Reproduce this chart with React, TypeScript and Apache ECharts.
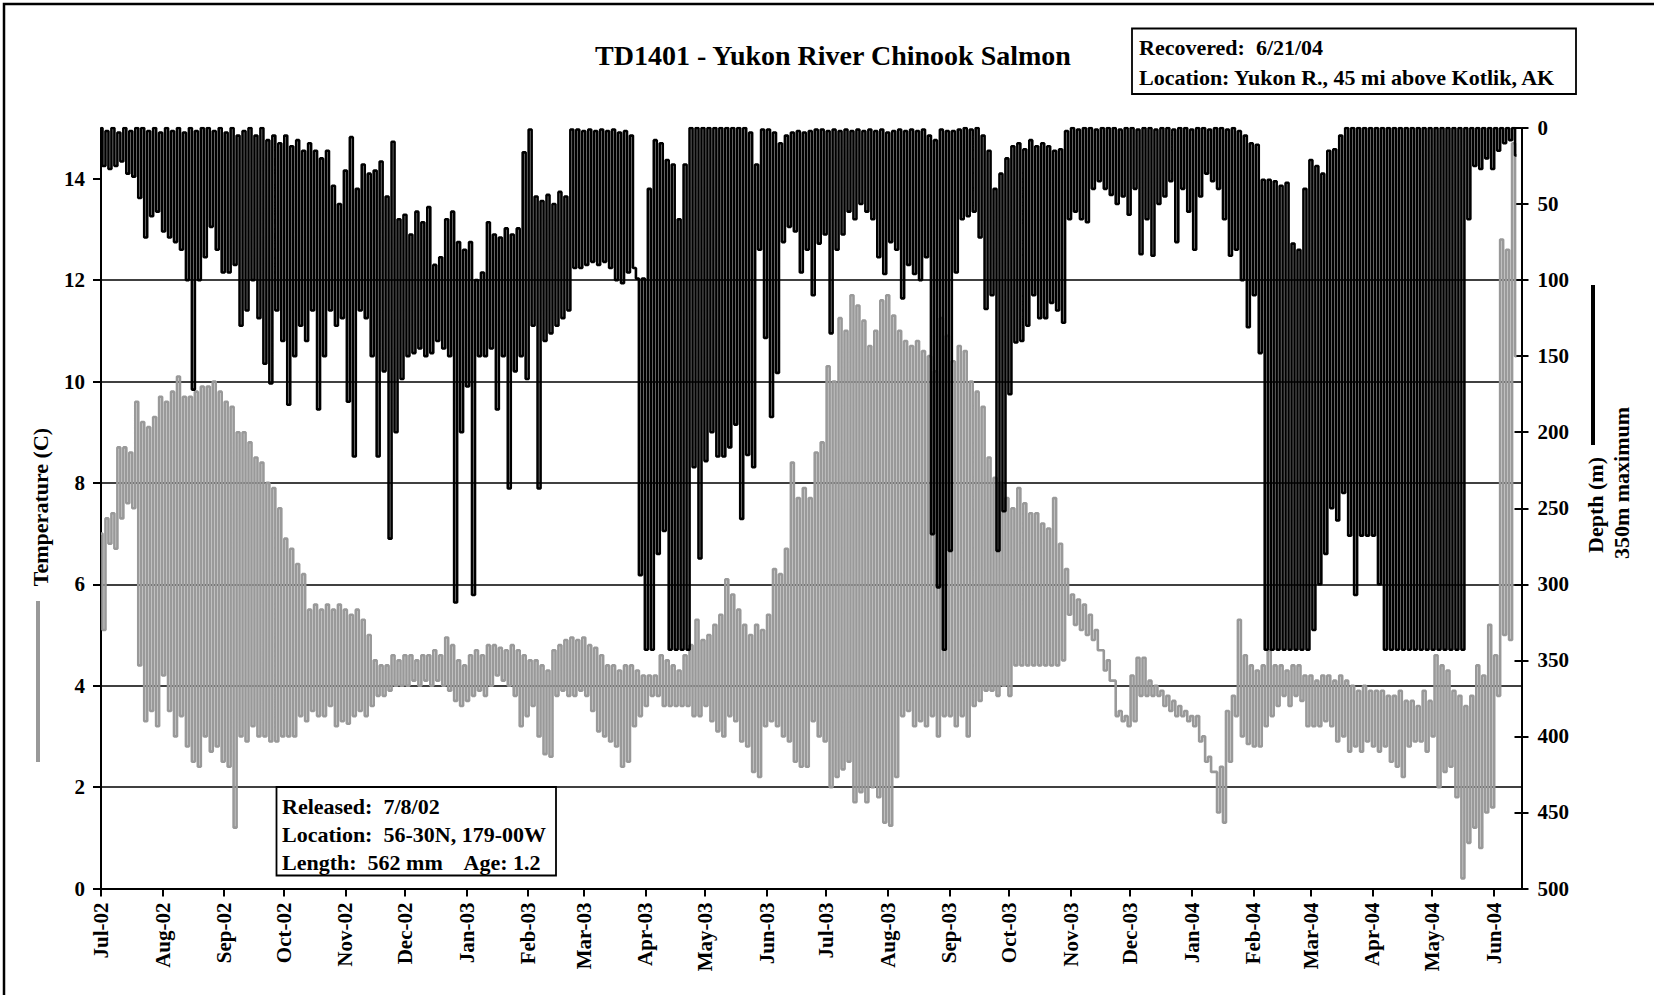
import React, { useEffect, useRef } from 'react';
import * as echarts from 'echarts';

// Samples: one shallow/deep (and warm/cold) pair per 3-day bin, starting at release (7/8/02)
const BIN_DAYS = 3;

const depthShallow = [
  0, 2, 0, 3, 0, 2, 0, 0, 2, 0, 3, 0, 2, 0, 3, 0, 2, 0, 0, 2, 0, 3, 0, 5, 2, 0, 5, 0, 8, 5, 10, 5, 12, 8, 15, 10, 15, 20, 15,
  38, 50, 28, 6, 40, 24, 30, 28, 22, 45, 9, 60, 57, 70, 55, 62, 52, 90, 85, 60, 55, 75, 80, 75, 100, 95, 62, 70, 72, 66, 70, 66, 16, 1, 45, 48, 44, 50, 42, 45,
  1, 1, 2, 1, 2, 1, 2, 1, 3, 2, 5, 99, 99, 40, 8, 10, 21, 24, 60, 24, 0, 0, 0, 0, 0, 0, 0, 0, 0, 0, 3, 24, 1, 1, 3, 10, 5, 3, 2, 3, 2,
  1, 1, 2, 1, 2, 1, 2, 1, 2, 1, 2, 1, 3, 2, 1, 2, 1, 2, 1, 5, 8, 1, 2, 2, 1, 0, 1, 0, 5, 15, 40, 30, 20, 12, 10, 14, 8, 12, 10, 12,
  15, 14, 2, 0, 1, 0, 0, 1, 0, 0, 0, 1, 0, 0, 1, 0, 0, 1, 0, 0, 1, 0, 0, 1, 0, 0, 1, 0, 0, 1, 0, 2, 5, 10, 11, 34, 34, 35, 38, 36,
  76, 80, 40, 21, 25, 30, 15, 14, 5, 0, 0, 0, 0, 0, 0, 0, 0, 0, 0, 0, 0, 0, 0, 0, 0, 0, 0, 0, 0, 0, 0, 0, 0, 0, 0, 0, 0, 0,
];

const depthDeep = [
  25, 27, 25, 22, 30, 32, 46, 72, 58, 55, 68, 72, 75, 80, 100, 172, 100, 85, 65, 80, 95, 95, 90, 130, 120, 100, 125, 155, 168, 120, 140, 182, 150, 130, 140, 120, 185, 150, 120,
  130, 125, 180, 216, 120, 125, 150, 216, 160, 270, 200, 165, 150, 148, 145, 150, 148, 140, 145, 150, 312, 200, 170, 307, 150, 150, 145, 185, 150, 237, 160, 150, 165, 130, 237, 140, 135, 130, 125, 120,
  92, 92, 90, 88, 90, 88, 92, 100, 102, 95, 92, 294, 343, 343, 280, 265, 343, 343, 343, 343, 223, 283, 219, 200, 216, 216, 210, 195, 257, 215, 223, 80, 138, 190, 161, 75, 65, 68, 95, 80, 110,
  76, 70, 135, 80, 70, 55, 60, 50, 55, 60, 85, 96, 75, 80, 112, 90, 96, 100, 85, 267, 302, 343, 278, 95, 60, 58, 55, 72, 119, 110, 278, 252, 175, 141, 140, 130, 110, 125, 125, 115,
  120, 128, 60, 55, 60, 62, 40, 35, 40, 44, 50, 45, 57, 40, 83, 60, 84, 50, 45, 35, 75, 40, 55, 80, 45, 30, 35, 40, 60, 84, 80, 100, 131, 110, 148, 343, 343, 343, 343, 343,
  343, 343, 343, 330, 300, 280, 250, 258, 240, 268, 307, 268, 268, 268, 300, 343, 343, 343, 343, 343, 343, 343, 343, 343, 343, 343, 343, 343, 343, 60, 25, 27, 20, 27, 15, 10, 8, 18,
];

const tempWarm = [
  7.0, 7.3, 7.4, 8.7, 8.7, 8.6, 9.6, 9.2, 9.1, 9.3, 9.7, 9.6, 9.8, 10.1, 9.7, 9.7, 9.8, 9.9, 9.9, 10.0, 9.8, 9.6, 9.5, 9.0, 9.0, 8.8, 8.5, 8.4, 8.0, 7.9, 7.5, 6.9, 6.7, 6.4, 6.2, 5.5, 5.6, 5.5, 5.6,
  5.5, 5.6, 5.5, 5.4, 5.5, 5.3, 5.0, 4.5, 4.4, 4.4, 4.6, 4.5, 4.6, 4.6, 4.5, 4.6, 4.6, 4.7, 4.6, 4.95, 4.8, 4.5, 4.4, 4.6, 4.7, 4.6, 4.8, 4.8, 4.75, 4.7, 4.8, 4.7, 4.6, 4.5, 4.5, 4.4, 4.3, 4.7, 4.8, 4.9,
  4.95, 4.9, 4.95, 4.8, 4.75, 4.6, 4.4, 4.4, 4.3, 4.4, 4.4, 4.3, 4.2, 4.2, 4.2, 4.6, 4.5, 4.4, 4.3, 4.6, 4.8, 5.3, 4.9, 5.0, 5.2, 5.4, 6.1, 5.8, 5.5, 5.2, 5.0, 5.2, 5.1, 5.4, 6.3, 6.2, 6.7, 8.4, 7.7, 7.9, 7.7,
  8.6, 8.8, 10.3, 10.0, 11.25, 11.0, 11.7, 11.5, 11.2, 10.7, 11.0, 11.6, 11.7, 11.3, 11.0, 10.8, 10.7, 10.8, 10.6, 10.5, 10.2, 11.25, 10.9, 10.4, 10.7, 10.6, 10.0, 9.8, 9.5, 8.5, 8.1, 8.0, 7.7, 7.5, 7.9, 7.6, 7.4, 7.4, 7.2, 7.1,
  7.7, 6.8, 6.3, 5.8, 5.7, 5.6, 5.4, 5.1, 4.7, 4.5, 4.1, 3.5, 3.4, 4.2, 4.55, 4.55, 4.1, 4.0, 3.9, 3.8, 3.7, 3.6, 3.5, 3.4, 3.4, 3.0, 2.6, 2.3, 2.4, 3.5, 3.8, 5.3, 4.6, 4.4, 4.3, 4.4, 4.7, 4.4, 4.4, 4.3,
  4.4, 4.4, 4.2, 4.2, 4.1, 4.2, 4.2, 4.1, 4.2, 4.1, 4.0, 3.9, 4.0, 3.9, 3.9, 3.9, 3.8, 3.8, 3.9, 3.7, 3.7, 3.6, 3.9, 3.7, 4.6, 4.4, 4.3, 3.9, 3.8, 3.6, 3.8, 4.4, 4.2, 5.2, 4.6, 12.8, 12.6, 14.7,
];

const tempCold = [
  5.1, 6.8, 6.7, 7.3, 7.6, 7.5, 4.4, 3.3, 3.5, 3.2, 4.2, 3.5, 3.0, 3.4, 2.8, 2.5, 2.4, 3.0, 2.7, 2.8, 2.5, 2.4, 1.2, 3.0, 2.9, 3.2, 3.0, 3.0, 2.9, 2.9, 3.0, 3.0, 3.0, 3.4, 3.3, 3.5, 3.4, 3.4, 3.6,
  3.2, 3.3, 3.25, 3.4, 3.5, 3.4, 3.6, 3.8, 3.8, 3.9, 4.0, 4.0, 4.0, 4.1, 4.0, 4.1, 4.0, 4.1, 4.0, 3.9, 3.7, 3.6, 3.7, 3.8, 3.9, 3.8, 4.0, 4.2, 4.1, 4.0, 3.8, 3.2, 3.4, 3.6, 3.0, 2.65, 2.6, 3.8, 3.9, 3.8,
  3.8, 3.9, 3.8, 3.5, 3.1, 3.0, 2.9, 2.8, 2.4, 2.5, 3.2, 3.4, 3.6, 3.8, 3.8, 3.6, 3.6, 3.6, 3.6, 3.6, 3.4, 3.4, 3.6, 3.3, 3.1, 3.0, 3.4, 3.3, 2.9, 2.8, 2.3, 2.2, 3.2, 3.3, 3.2, 3.0, 2.9, 2.5, 2.4, 2.4, 3.3,
  3.0, 2.9, 2.0, 2.2, 2.35, 2.5, 1.7, 1.9, 1.7, 2.0, 1.8, 1.3, 1.24, 2.2, 3.4, 3.5, 3.2, 3.3, 3.2, 3.4, 3.0, 3.4, 3.4, 3.2, 3.4, 3.0, 3.6, 3.7, 3.9, 3.9, 3.8, 4.0, 3.8, 4.4, 4.4, 4.4, 4.4, 4.4, 4.4, 4.4,
  4.4, 4.5, 5.4, 5.2, 5.1, 5.0, 4.9, 4.7, 4.3, 4.1, 3.4, 3.3, 3.2, 3.3, 3.8, 3.8, 3.8, 3.8, 3.6, 3.5, 3.4, 3.4, 3.3, 3.2, 2.9, 2.5, 2.3, 1.5, 1.3, 2.5, 3.4, 3.0, 2.85, 2.8, 2.8, 3.2, 3.4, 3.6, 3.8, 3.6,
  3.8, 3.7, 3.2, 3.2, 3.2, 3.3, 3.2, 2.9, 3.0, 2.7, 2.8, 2.7, 2.9, 2.8, 2.7, 2.8, 2.5, 2.4, 2.2, 2.8, 2.9, 2.9, 2.7, 3.0, 2.0, 2.3, 2.4, 1.8, 0.2, 0.9, 1.2, 0.8, 1.5, 1.6, 3.8, 5.0, 4.9, 10.5,
];

// x axis: days since 7/8/02; ticks on the 8th of every month
const tickDays = [0, 31, 62, 92, 123, 153, 184, 215, 243, 274, 304, 335, 365, 396, 427, 457, 488, 518, 549, 580, 609, 640, 670, 701];
const tickLabels = [
  'Jul-02', 'Aug-02', 'Sep-02', 'Oct-02', 'Nov-02', 'Dec-02', 'Jan-03', 'Feb-03', 'Mar-03', 'Apr-03', 'May-03', 'Jun-03',
  'Jul-03', 'Aug-03', 'Sep-03', 'Oct-03', 'Nov-03', 'Dec-03', 'Jan-04', 'Feb-04', 'Mar-04', 'Apr-04', 'May-04', 'Jun-04',
];
const X_MAX = 715;
const tempTicks = [0, 2, 4, 6, 8, 10, 12, 14];

const FONT = '"Liberation Serif", "Times New Roman", serif';

export default function App() {
  const ref = useRef<HTMLDivElement>(null);

  useEffect(() => {
    document.body.style.margin = '0';
    const chart = echarts.init(ref.current as HTMLDivElement, null, { renderer: 'svg' });

    const depthData: number[][] = [];
    depthShallow.forEach((v, i) => {
      depthData.push([i * BIN_DAYS, v]);
      depthData.push([i * BIN_DAYS + BIN_DAYS / 2, depthDeep[i]]);
    });
    const tempData: number[][] = [];
    tempWarm.forEach((v, i) => {
      tempData.push([i * BIN_DAYS, v]);
      tempData.push([i * BIN_DAYS + BIN_DAYS / 2, tempCold[i]]);
    });

    const labelFont = { fontFamily: FONT, fontWeight: 'bold' as const, fontSize: 21, color: '#000' };
    const titleFont = `bold 22px ${FONT}`;

    chart.setOption({
      animation: false,
      backgroundColor: '#fff',
      grid: { left: 101, right: 132.5, top: 128, bottom: 106.5, containLabel: false },
      xAxis: {
        type: 'value',
        min: 0,
        max: X_MAX,
        axisLine: { show: true, lineStyle: { color: '#000', width: 2 } },
        axisTick: { show: true, customValues: tickDays, length: 8, lineStyle: { color: '#000', width: 2 } },
        axisLabel: {
          ...labelFont,
          customValues: tickDays,
          rotate: 90,
          margin: 14,
          formatter: (v: number) => tickLabels[tickDays.indexOf(Math.round(v))] ?? '',
        },
        splitLine: { show: false },
      },
      yAxis: [
        {
          type: 'value',
          min: 0,
          max: 15,
          interval: 2,
          position: 'left',
          axisLine: { show: true, lineStyle: { color: '#000', width: 2 } },
          axisTick: { show: true, customValues: tempTicks, length: 8, lineStyle: { color: '#000', width: 2 } },
          axisLabel: { ...labelFont, customValues: tempTicks, margin: 16 },
          splitLine: { show: true, showMaxLine: false, lineStyle: { color: '#000', width: 1.6 } },
        },
        {
          type: 'value',
          min: 0,
          max: 500,
          interval: 50,
          inverse: true,
          position: 'right',
          axisLine: { show: true, lineStyle: { color: '#000', width: 2 } },
          axisTick: { show: true, length: 7, lineStyle: { color: '#000', width: 2 } },
          axisLabel: { ...labelFont, margin: 16 },
          splitLine: { show: false },
        },
        {
          type: 'value',
          min: 0,
          max: 500,
          interval: 50,
          inverse: true,
          position: 'right',
          axisLine: { show: false },
          axisTick: { show: true, inside: true, length: 7, lineStyle: { color: '#000', width: 2 } },
          axisLabel: { show: false },
          splitLine: { show: false },
        },
      ],
      series: [
        {
          name: 'Temperature (C)',
          type: 'line',
          yAxisIndex: 0,
          data: tempData,
          step: 'middle',
          showSymbol: false,
          symbol: 'none',
          silent: true,
          z: 2,
          lineStyle: { color: '#999999', width: 2.6 },
        },
        {
          name: 'Depth (m)',
          type: 'line',
          yAxisIndex: 1,
          data: depthData,
          step: 'middle',
          showSymbol: false,
          symbol: 'none',
          silent: true,
          z: 3,
          lineStyle: { color: '#000000', width: 2.6 },
        },
      ],
      graphic: [
        {
          type: 'rect',
          silent: true,
          z: 100,
          shape: { x: 4, y: 4, width: 1700, height: 1100 },
          style: { fill: 'none', stroke: '#000', lineWidth: 2.5 },
        },
        {
          type: 'text',
          z: 100,
          x: 833,
          y: 55,
          style: {
            text: 'TD1401 - Yukon River Chinook Salmon',
            font: `bold 28px ${FONT}`,
            fill: '#000',
            align: 'center',
            verticalAlign: 'middle',
          },
        },
        {
          type: 'rect',
          z: 100,
          shape: { x: 1132, y: 28.5, width: 444, height: 65.5 },
          style: { fill: '#fff', stroke: '#000', lineWidth: 1.8 },
        },
        {
          type: 'text',
          z: 101,
          x: 1139,
          y: 47,
          style: { text: 'Recovered:  6/21/04', font: titleFont, fill: '#000', verticalAlign: 'middle' },
        },
        {
          type: 'text',
          z: 101,
          x: 1139,
          y: 77,
          style: { text: 'Location: Yukon R., 45 mi above Kotlik, AK', font: titleFont, fill: '#000', verticalAlign: 'middle' },
        },
        {
          type: 'rect',
          z: 100,
          shape: { x: 276.5, y: 787, width: 279.5, height: 88.5 },
          style: { fill: '#fff', stroke: '#000', lineWidth: 1.8 },
        },
        {
          type: 'text',
          z: 101,
          x: 282,
          y: 806,
          style: { text: 'Released:  7/8/02', font: titleFont, fill: '#000', verticalAlign: 'middle' },
        },
        {
          type: 'text',
          z: 101,
          x: 282,
          y: 834,
          style: { text: 'Location:  56-30N, 179-00W', font: titleFont, fill: '#000', verticalAlign: 'middle' },
        },
        {
          type: 'text',
          z: 101,
          x: 282,
          y: 862,
          style: { text: 'Length:  562 mm    Age: 1.2', font: titleFont, fill: '#000', verticalAlign: 'middle' },
        },
        {
          type: 'text',
          z: 100,
          x: 40,
          y: 507,
          rotation: Math.PI / 2,
          style: { text: 'Temperature (C)', font: titleFont, fill: '#000', align: 'center', verticalAlign: 'middle' },
        },
        {
          type: 'line',
          z: 100,
          shape: { x1: 38, y1: 601, x2: 38, y2: 762 },
          style: { stroke: '#999999', lineWidth: 4 },
        },
        {
          type: 'text',
          z: 100,
          x: 1595,
          y: 505,
          rotation: Math.PI / 2,
          style: { text: 'Depth (m)', font: titleFont, fill: '#000', align: 'center', verticalAlign: 'middle' },
        },
        {
          type: 'line',
          z: 100,
          shape: { x1: 1593, y1: 285, x2: 1593, y2: 445 },
          style: { stroke: '#000', lineWidth: 4 },
        },
        {
          type: 'text',
          z: 100,
          x: 1621,
          y: 483,
          rotation: Math.PI / 2,
          style: { text: '350m maximum', font: titleFont, fill: '#000', align: 'center', verticalAlign: 'middle' },
        },
      ],
    });

    return () => chart.dispose();
  }, []);

  return <div ref={ref} style={{ width: 1654, height: 995 }} />;
}
